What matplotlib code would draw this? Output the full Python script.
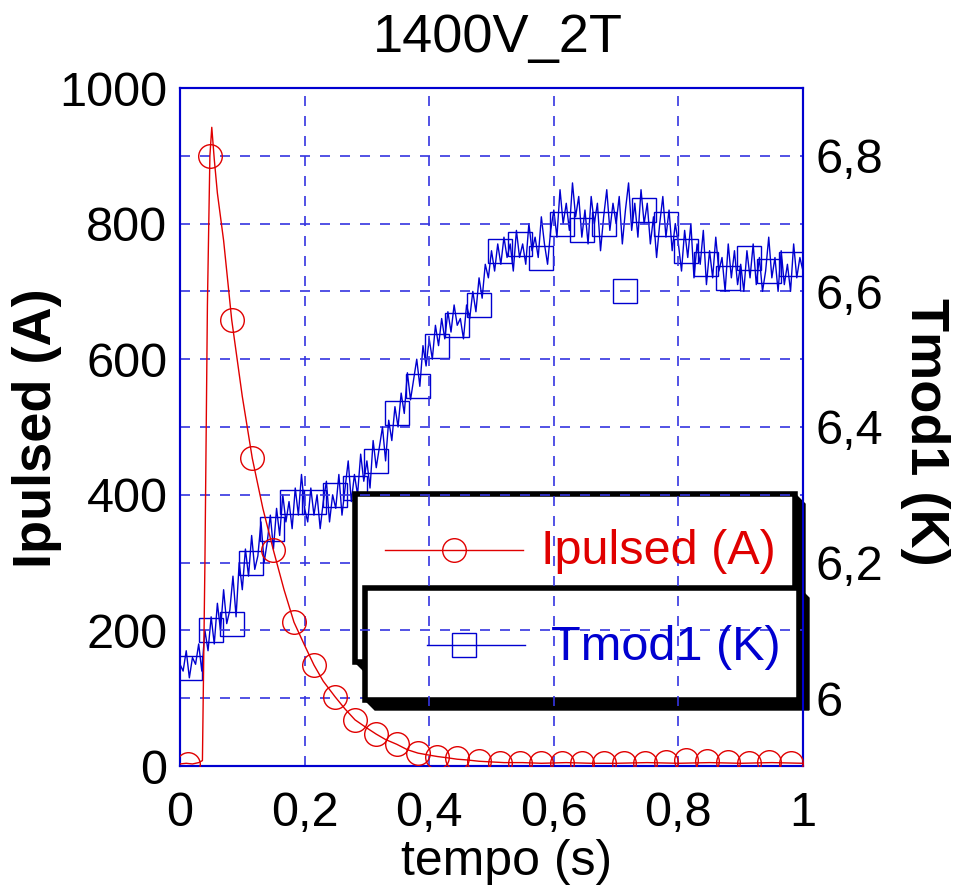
import matplotlib
matplotlib.use("Agg")
import matplotlib.pyplot as plt
from matplotlib.patches import Polygon, Rectangle
from matplotlib.lines import Line2D

FONT = "Liberation Sans"

# --- data ---
t_ip = [0.0, 0.01, 0.02, 0.03, 0.036, 0.040, 0.044, 0.048, 0.051, 0.055, 0.06, 0.07,
        0.083, 0.10, 0.116, 0.133, 0.15, 0.167, 0.183, 0.20, 0.215, 0.23, 0.249, 0.265,
        0.281, 0.30, 0.315, 0.33, 0.348, 0.365, 0.382, 0.40, 0.413, 0.43, 0.445, 0.46,
        0.48, 0.50, 0.52, 0.55, 0.58, 0.62, 0.66, 0.70, 0.75, 0.80, 0.85, 0.90, 0.95, 1.0]
ipulsed = [3, 4, 3, 5, 8, 300, 680, 900, 942, 895, 845, 775,
           658, 545, 454, 380, 318, 260, 212, 178, 149, 125, 102, 84,
           68, 56, 47, 39, 32, 24, 19, 16, 14, 12, 10, 9,
           7, 6, 5, 5, 4, 5, 4, 4, 5, 4, 5, 4, 5, 4]

t_circ = [0.013, 0.048, 0.083, 0.116, 0.15, 0.183, 0.215, 0.249, 0.281, 0.315,
          0.348, 0.382, 0.413, 0.445, 0.48, 0.513, 0.546, 0.58, 0.613, 0.646,
          0.68, 0.713, 0.746, 0.78, 0.813, 0.846, 0.88, 0.913, 0.946, 0.98]
ip_circ = [3, 900, 658, 454, 318, 212, 149, 102, 68, 47,
           32, 19, 14, 12, 7, 5, 5, 5, 5, 5,
           5, 5, 4, 6, 9, 8, 6, 5, 6, 4]

t_tm = [i * 0.005 for i in range(201)]
tmod = [6.05, 6.04, 6.07, 6.03, 6.06, 6.05, 6.08, 6.04, 6.10, 6.07,
        6.12, 6.08, 6.14, 6.10, 6.16, 6.11, 6.13, 6.18, 6.12, 6.20,
        6.16, 6.22, 6.18, 6.24, 6.19, 6.21, 6.26, 6.20, 6.23, 6.27,
        6.22, 6.28, 6.24, 6.30, 6.26, 6.29, 6.25, 6.31, 6.27, 6.33,
        6.28, 6.26, 6.31, 6.27, 6.30, 6.25, 6.29, 6.32, 6.26, 6.30,
        6.28, 6.33, 6.27, 6.31, 6.35, 6.29, 6.33, 6.30, 6.36, 6.32,
        6.35, 6.31, 6.38, 6.34, 6.37, 6.40, 6.35, 6.41, 6.38, 6.43,
        6.40, 6.45, 6.42, 6.48, 6.44, 6.47, 6.50, 6.46, 6.52, 6.49,
        6.53, 6.50, 6.55, 6.52, 6.56, 6.53, 6.57, 6.54, 6.58, 6.55,
        6.56, 6.53, 6.58, 6.56, 6.60, 6.57, 6.62, 6.59, 6.64, 6.62,
        6.66, 6.63, 6.67, 6.64, 6.68, 6.65, 6.67, 6.63, 6.69, 6.65,
        6.67, 6.64, 6.70, 6.66, 6.68, 6.65, 6.71, 6.67, 6.64, 6.69,
        6.72, 6.68, 6.75, 6.70, 6.73, 6.69, 6.76, 6.71, 6.74, 6.68,
        6.72, 6.67, 6.74, 6.70, 6.73, 6.66, 6.71, 6.75, 6.69, 6.73,
        6.70, 6.74, 6.67, 6.72, 6.76, 6.69, 6.73, 6.68, 6.75, 6.70,
        6.73, 6.67, 6.71, 6.65, 6.70, 6.74, 6.68, 6.72, 6.66, 6.70,
        6.67, 6.63, 6.69, 6.65, 6.70, 6.62, 6.67, 6.64, 6.69, 6.61,
        6.66, 6.62, 6.68, 6.63, 6.65, 6.60, 6.67, 6.62, 6.66, 6.61,
        6.64, 6.60, 6.66, 6.62, 6.67, 6.61, 6.65, 6.60, 6.63, 6.68,
        6.62, 6.65, 6.60, 6.66, 6.61, 6.64, 6.60, 6.67, 6.62, 6.65,
        6.63]

t_sq = [0.016, 0.049, 0.083, 0.114, 0.148, 0.18, 0.215, 0.249, 0.281, 0.315,
        0.348, 0.382, 0.413, 0.445, 0.48, 0.513, 0.545, 0.58, 0.613, 0.645,
        0.68, 0.714, 0.745, 0.78, 0.813, 0.845, 0.88, 0.913, 0.945, 0.98]
tm_sq = [6.045, 6.10, 6.11, 6.20, 6.25, 6.29, 6.29, 6.30, 6.31, 6.35,
         6.42, 6.46, 6.52, 6.55, 6.58, 6.66, 6.67, 6.65, 6.70, 6.69,
         6.70, 6.60, 6.72, 6.70, 6.66, 6.64, 6.62, 6.65, 6.63, 6.64]

x_ticks = [0, 0.2, 0.4, 0.6, 0.8, 1.0]
x_labels = ["0", "0,2", "0,4", "0,6", "0,8", "1"]
yl_ticks = [0, 200, 400, 600, 800, 1000]
yr_ticks = [6.0, 6.2, 6.4, 6.6, 6.8]
yr_labels = ["6", "6,2", "6,4", "6,6", "6,8"]

RED = "#e00000"
BLUE = "#0000d0"
GRID = "#3535e0"

W, H = 954, 890
fig = plt.figure(figsize=(W / 100, H / 100), dpi=100)


def fx(px):
    return px / W


def fy(py):
    return 1 - py / H


ax = fig.add_axes([fx(180), fy(766), fx(803) - fx(180), fy(88) - fy(766)])
ax2 = ax.twinx()

ax.set_xlim(0, 1)
ax.set_ylim(0, 1000)
ax2.set_ylim(5.9, 6.9)

# grids at both axes' ticks
for xv in x_ticks[1:-1]:
    ax.axvline(xv, color=GRID, lw=1.2, ls=(0, (6, 6)), zorder=0)
for yv in yl_ticks[1:-1]:
    ax.axhline(yv, color=GRID, lw=1.2, ls=(0, (6, 6)), zorder=0)
for yv in yr_ticks:
    ax2.axhline(yv, color=GRID, lw=1.2, ls=(0, (6, 6)), zorder=0)

ax.plot(t_ip, ipulsed, color=RED, lw=1.0, zorder=3)
ax.plot(t_circ, ip_circ, ls="none", marker="o", ms=17, mfc="none", mec=RED, mew=1.0, zorder=3)

ax2.plot(t_tm, tmod, color=BLUE, lw=1.0, zorder=2)
ax2.plot(t_sq, tm_sq, ls="none", marker="s", ms=17, mfc="none", mec=BLUE, mew=1.0, zorder=2)

ax.set_zorder(ax2.get_zorder() + 1)
ax.patch.set_visible(False)

for a in (ax, ax2):
    for s in a.spines.values():
        s.set_color(BLUE)
        s.set_linewidth(1.5)
    a.tick_params(length=0)

ax.set_xticks(x_ticks)
ax.set_xticklabels(x_labels, family=FONT, fontsize=35)
ax.set_yticks(yl_ticks)
ax.set_yticklabels([str(v) for v in yl_ticks], family=FONT, fontsize=35)
ax.tick_params(axis="x", pad=18)
ax.tick_params(axis="y", pad=9)
ax2.set_yticks(yr_ticks)
ax2.set_yticklabels(yr_labels, family=FONT, fontsize=35)
ax2.tick_params(axis="y", pad=9)

fig.text(fx(498), fy(38), "1400V_2T", family=FONT, fontsize=39, ha="center", va="center")
fig.text(fx(507), fy(862), "tempo (s)", family=FONT, fontsize=36, ha="center", va="center")
fig.text(fx(37), fy(428), "Ipulsed (A)", family=FONT, weight="bold", fontsize=39,
         rotation=90, ha="center", va="center")
fig.text(fx(925), fy(432), "Tmod1 (K)", family=FONT, weight="bold", fontsize=39,
         rotation=-90, ha="center", va="center")


# legend boxes with drop shadow
def box(x0, y0, x1, y1, d=10):
    shadow = Polygon([(fx(x0), fy(y0)), (fx(x1), fy(y0)), (fx(x1 + d), fy(y0 + d)),
                      (fx(x1 + d), fy(y1 + d)), (fx(x0 + d), fy(y1 + d)), (fx(x0), fy(y1))],
                     closed=True, transform=fig.transFigure, facecolor="black", edgecolor="black")
    fig.add_artist(shadow)
    rect = Rectangle((fx(x0), fy(y1)), fx(x1) - fx(x0), fy(y0) - fy(y1), transform=fig.transFigure,
                     facecolor="white", edgecolor="black", lw=4)
    fig.add_artist(rect)


box(355, 494, 795, 662)
fig.add_artist(Line2D([fx(385), fx(523)], [fy(550), fy(550)], transform=fig.transFigure,
                      color=RED, lw=1.0))
fig.add_artist(Line2D([fx(454)], [fy(550)], transform=fig.transFigure, ls="none",
                      marker="o", ms=17, mfc="none", mec=RED, mew=1.0))
fig.text(fx(541), fy(552), "Ipulsed (A)", family=FONT, fontsize=35, color=RED, va="center")

box(365, 588, 799, 700)
fig.add_artist(Line2D([fx(427), fx(525)], [fy(645), fy(645)], transform=fig.transFigure,
                      color=BLUE, lw=1.0))
fig.add_artist(Line2D([fx(464)], [fy(645)], transform=fig.transFigure, ls="none",
                      marker="s", ms=17, mfc="none", mec=BLUE, mew=1.0))
fig.text(fx(551), fy(647), "Tmod1 (K)", family=FONT, fontsize=35, color=BLUE, va="center")

fig.savefig("out.png", dpi=100)
